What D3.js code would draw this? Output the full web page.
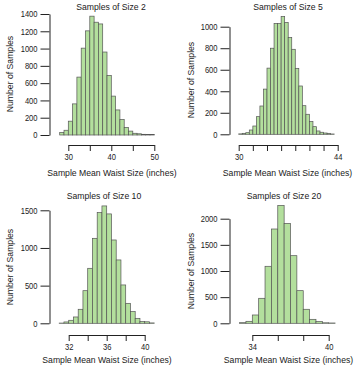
<!DOCTYPE html>
<html>
<head>
<meta charset="utf-8">
<script src="https://cdn.jsdelivr.net/npm/d3@7"></script>
<style>
  html, body { margin: 0; padding: 0; background: #fff; }
  svg { display: block; }
  text { font-family: "Liberation Sans", Arial, sans-serif; fill: #1a1a1a; }
</style>
</head>
<body>
<svg id="chart" width="360" height="371"></svg>
<script>
// ---- Data ----
const titles = ["Samples of Size 2", "Samples of Size 5", "Samples of Size 10", "Samples of Size 20"];
const xLabel = "Sample Mean Waist Size (inches)";
const yLabel = "Number of Samples";

const size2BinStart = 28, size2BinWidth = 1;
const size2Counts = [30, 55, 160, 360, 670, 1005, 1205, 1375, 1305, 1285, 960, 690, 450, 290, 180, 88, 45, 20, 14, 8, 6, 6];

const size5BinStart = 30, size5BinWidth = 0.5;
const size5Counts = [4, 9, 15, 40, 77, 164, 263, 420, 615, 800, 1030, 1030, 1095, 1040, 900, 790, 613, 449, 266, 186, 118, 71, 31, 19, 12, 9, 3];

const size10BinStart = 31, size10BinWidth = 0.5;
const size10Counts = [3, 18, 40, 84, 186, 433, 730, 1128, 1469, 1558, 1452, 1106, 841, 509, 265, 155, 66, 22, 20, 5];

const size20BinStart = 33, size20BinWidth = 0.5;
const size20Counts = [12, 38, 159, 478, 1090, 1803, 2255, 1911, 1293, 624, 268, 76, 32, 10, 6];

const size2XTicks = [30, 35, 40, 45, 50], size2XLabels = [30, 40, 50];
const size5XTicks = [30, 32, 34, 36, 38, 40, 42, 44], size5XLabels = [30, 44];
const size10XTicks = [32, 34, 36, 38, 40], size10XLabels = [32, 36, 40];
const size20XTicks = [34, 36, 38, 40], size20XLabels = [34, 40];

const size2YTicks = [0, 200, 400, 600, 800, 1000, 1200, 1400];
const size5YTicks = [0, 200, 400, 600, 800, 1000];
const size10YTicks = [0, 500, 1000, 1500];
const size20YTicks = [0, 500, 1000, 1500, 2000];

// ---- Layout ----
const panels = [
  { title: titles[0], start: size2BinStart, width: size2BinWidth, counts: size2Counts,
    xTicks: size2XTicks, xLabels: size2XLabels, yTicks: size2YTicks,
    xr: [68.3, 154.3], yr: [135, 14], yAxisX: 49.5, xAxisY: 145,
    titleX: 111, titleY: 9.5, yLabX: 12.5, yLabY: 74, xLabX: 112, xLabY: 176 },
  { title: titles[1], start: size5BinStart, width: size5BinWidth, counts: size5Counts,
    xTicks: size5XTicks, xLabels: size5XLabels, yTicks: size5YTicks,
    xr: [238.7, 337.7], yr: [134.3, 26.7], yAxisX: 229.5, xAxisY: 145,
    titleX: 288, titleY: 9.5, yLabX: 194, yLabY: 80, xLabX: 287.5, xLabY: 176 },
  { title: titles[2], start: size10BinStart, width: size10BinWidth, counts: size10Counts,
    xTicks: size10XTicks, xLabels: size10XLabels, yTicks: size10YTicks,
    xr: [68.7, 144.7], yr: [323.3, 210.3], yAxisX: 49.5, xAxisY: 335,
    titleX: 104, titleY: 198.5, yLabX: 12.5, yLabY: 267, xLabX: 107, xLabY: 363 },
  { title: titles[3], start: size20BinStart, width: size20BinWidth, counts: size20Counts,
    xTicks: size20XTicks, xLabels: size20XLabels, yTicks: size20YTicks,
    xr: [252.3, 328.7], yr: [323.3, 218.7], yAxisX: 229.5, xAxisY: 335,
    titleX: 284, titleY: 198.5, yLabX: 194, yLabY: 271, xLabX: 288.5, xLabY: 363 }
];

const svg = d3.select("#chart");
const FS = 9;        // titles and axis labels
const TFS = 8.6;     // tick labels
const FF = "Liberation Sans, Arial, sans-serif";

// condense text horizontally, like the narrow face in the reference
function squeeze(sel, factor) {
  sel.each(function () {
    const t = d3.select(this);
    if (!t.text()) return;
    const w = this.getComputedTextLength();
    t.attr("textLength", w * factor).attr("lengthAdjust", "spacingAndGlyphs");
  });
}

panels.forEach(p => {
  const g = svg.append("g");
  const x = d3.scaleLinear().domain([p.xTicks[0], p.xTicks[p.xTicks.length - 1]]).range(p.xr);
  const y = d3.scaleLinear().domain([0, p.yTicks[p.yTicks.length - 1]]).range(p.yr);

  const bins = p.counts.map((c, i) => ({ x0: p.start + i * p.width, x1: p.start + (i + 1) * p.width, c }));

  g.selectAll("rect.bar").data(bins).enter().append("rect")
    .attr("class", "bar")
    .attr("x", d => x(d.x0))
    .attr("width", d => x(d.x1) - x(d.x0))
    .attr("y", d => y(d.c))
    .attr("height", d => y(0) - y(d.c))
    .attr("fill", "#b3df9d")
    .attr("stroke", "#555")
    .attr("stroke-width", 0.7);

  // Y axis (R style, offset left)
  const ya = g.append("g").attr("transform", `translate(${p.yAxisX},0)`)
    .call(d3.axisLeft(y).tickValues(p.yTicks).tickSize(9).tickSizeOuter(0).tickPadding(3)
      .tickFormat(d3.format("d")));
  ya.selectAll("text").attr("font-size", TFS).attr("font-family", FF).attr("fill", "#1a1a1a");
  ya.selectAll("line, path").attr("stroke", "#222");
  squeeze(ya.selectAll("text"), 0.88);

  // X axis (R style, below)
  const xa = g.append("g").attr("transform", `translate(0,${p.xAxisY})`)
    .call(d3.axisBottom(x).tickValues(p.xTicks).tickSize(6).tickSizeOuter(0).tickPadding(3)
      .tickFormat(v => p.xLabels.includes(v) ? String(v) : ""));
  xa.selectAll("text").attr("font-size", TFS).attr("font-family", FF).attr("fill", "#1a1a1a");
  xa.selectAll("line, path").attr("stroke", "#222");
  squeeze(xa.selectAll("text"), 0.88);

  const t1 = g.append("text").attr("x", p.titleX).attr("y", p.titleY)
    .attr("text-anchor", "middle").attr("font-size", FS).text(p.title);
  const t2 = g.append("text").attr("x", p.xLabX).attr("y", p.xLabY)
    .attr("text-anchor", "middle").attr("font-size", FS).text(xLabel);
  const t3 = g.append("text")
    .attr("transform", `translate(${p.yLabX},${p.yLabY}) rotate(-90)`)
    .attr("text-anchor", "middle").attr("font-size", FS).text(yLabel);
  squeeze(t1, 0.96);
  squeeze(t2, 0.96);
  squeeze(t3, 0.96);
});
</script>
</body>
</html>
